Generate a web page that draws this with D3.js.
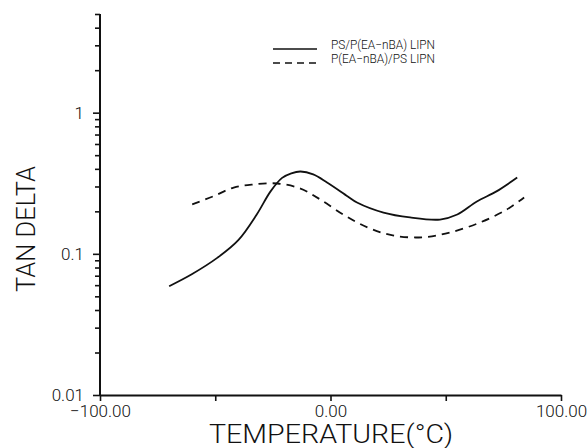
<!doctype html>
<html>
	<head>
		<meta charset="utf-8">
		<title>Tan delta vs temperature</title>
		<style>
			body{ margin: 0; background: #fff; }
			svg text{ font-family: Roboto, "Liberation Sans", Arial, sans-serif; font-weight: 300; fill: #111; }
			.axis path, .axis line{ stroke: #111; stroke-width: 1.6; }
			.axis .domain{ stroke-width: 2; }
		</style>
	</head>
	<body>
		<svg id="chart" width="587" height="448"></svg>
		<script src="https://cdn.jsdelivr.net/npm/d3@7"></script>
		<script>
			// temperature (C) and tan delta
			var solidTemp = [-70, -60, -49, -40, -32, -26, -21, -17, -13, -7.5, -1.5, 7.5, 11.5, 23, 34.5, 47.5, 55, 63.5, 72, 81];
			var solidTan  = [0.059, 0.072, 0.094, 0.125, 0.19, 0.277, 0.345, 0.372, 0.383, 0.365, 0.32, 0.255, 0.231, 0.196, 0.181, 0.175, 0.19, 0.235, 0.277, 0.347];
			var dashTemp = [-60, -51, -42, -33.5, -23, -13, -4.5, 5.5, 16, 27, 40, 52, 65, 76.5, 84];
			var dashTan  = [0.224, 0.255, 0.295, 0.31, 0.315, 0.29, 0.243, 0.19, 0.154, 0.135, 0.131, 0.142, 0.167, 0.206, 0.251];
			var seriesNames = ["PS/P(EA\u2212nBA)  LIPN", "P(EA\u2212nBA)/PS  LIPN"];
			var xTicks = [-100, -50, 0, 50, 100];
			var xLabels = [-100, 0, 100];
			var yMajor = [0.01, 0.1, 1];
			var yMinor = [0.02, 0.03, 0.04, 0.05, 0.06, 0.07, 0.08, 0.09, 0.2, 0.3, 0.4, 0.5, 0.6, 0.7, 0.8, 0.9, 2, 3, 4, 5];

			var svg = d3.select("#chart");
			var x = d3.scaleLinear().domain([-100, 100]).range([100, 561]);
			var y = d3.scaleLog().domain([0.01, 5]).range([395, 14]);

			// x axis
			var fmt = d3.format(".2f");
			svg.append("g").attr("class", "axis")
				.attr("transform", "translate(0,395)")
				.call(d3.axisBottom(x).tickValues(xTicks).tickSizeInner(6).tickSizeOuter(0)
					.tickFormat(function(d){ return xLabels.indexOf(d) >= 0 ? fmt(d) : ""; }))
				.call(function(g){
					g.selectAll("text").attr("font-size", 17).attr("y", 10).attr("font-family", null);
				});

			// y axis, minor then major
			svg.append("g").attr("class", "axis")
				.attr("transform", "translate(100,0)")
				.call(d3.axisLeft(y).tickValues(yMinor).tickSize(5).tickFormat(""))
				.call(function(g){ g.select(".domain").remove(); });
			svg.append("g").attr("class", "axis")
				.attr("transform", "translate(100,0)")
				.call(d3.axisLeft(y).tickValues(yMajor).tickSizeInner(7).tickSizeOuter(0)
					.tickFormat(function(d){ return d3.format("")(d); }))
				.call(function(g){
					g.selectAll("text").attr("font-size", 17).attr("font-family", null).attr("x", -16);
					g.select(".domain").attr("d", "M0," + y(0.01) + "V" + y(5));
				});

			// axis titles
			svg.append("text")
				.attr("x", 331).attr("y", 443)
				.attr("text-anchor", "middle")
				.attr("font-size", 25)
				.attr("textLength", 244).attr("lengthAdjust", "spacingAndGlyphs")
				.text("TEMPERATURE(\u00b0C)");
			svg.append("text")
				.attr("transform", "translate(35,229) rotate(-90)")
				.attr("text-anchor", "middle")
				.attr("font-size", 26)
				.attr("textLength", 126).attr("lengthAdjust", "spacingAndGlyphs")
				.text("TAN DELTA");

			// curves
			var line = d3.line()
				.x(function(d){ return x(d[0]); })
				.y(function(d){ return y(d[1]); })
				.curve(d3.curveCatmullRom.alpha(0.5));
			var solid = d3.zip(solidTemp, solidTan);
			var dashed = d3.zip(dashTemp, dashTan);

			svg.append("path").datum(solid)
				.attr("d", line)
				.attr("fill", "none").attr("stroke", "#111").attr("stroke-width", 1.8);
			svg.append("path").datum(dashed)
				.attr("d", line)
				.attr("fill", "none").attr("stroke", "#111").attr("stroke-width", 1.8)
				.attr("stroke-dasharray", "8,6");

			// legend
			var legend = svg.append("g");
			seriesNames.forEach(function(name, i){
				var ly = 49 + i * 14;
				legend.append("line")
					.attr("x1", 273).attr("x2", 317)
					.attr("y1", ly).attr("y2", ly)
					.attr("stroke", "#111").attr("stroke-width", 1.5)
					.attr("stroke-dasharray", i === 1 ? "7,5" : null);
				legend.append("text")
					.attr("x", 331).attr("y", ly)
					.attr("font-size", 12.5)
					.attr("textLength", 104).attr("lengthAdjust", "spacingAndGlyphs")
					.text(name);
			});
		</script>
	</body>
</html>
